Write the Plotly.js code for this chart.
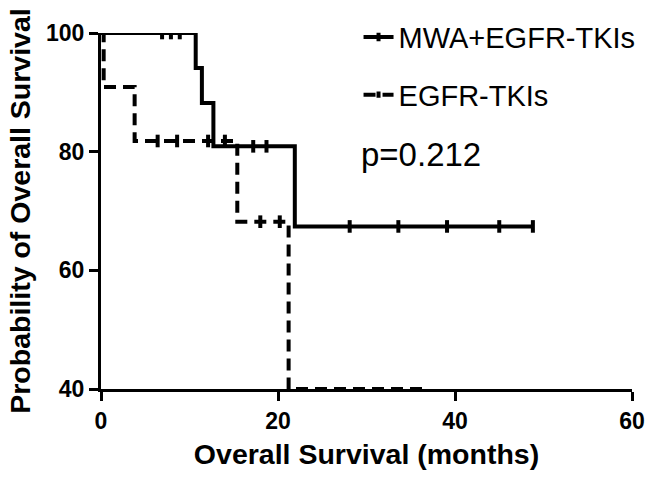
<!DOCTYPE html>
<html>
<head>
<meta charset="utf-8">
<script src="https://cdn.plot.ly/plotly-3.0.1.min.js"></script>
<style>
  body { margin: 0; background: #fff; }
  #km { width: 650px; height: 478px; }
</style>
</head>
<body>
<div id="km"></div>
<script>
// MWA+EGFR-TKIs: step points and censored points (months, % survival)
var mwaTime     = [0, 6.9, 7.9, 8.9, 10.7, 11.4, 12.7, 17.2, 18.7, 21.9, 28.1, 33.6, 39.1, 45.0, 48.8];
var mwaSurv     = [100, 100, 100, 100, 94.1, 88.2, 80.9, 80.9, 80.9, 67.4, 67.4, 67.4, 67.4, 67.4, 67.4];
var mwaCensored = [0, 1, 1, 1, 0, 0, 0, 1, 1, 0, 1, 1, 1, 1, 1];

// EGFR-TKIs
var tkiTime     = [0, 0.3, 3.8, 6.4, 8.6, 12.1, 14.0, 15.4, 18.0, 20.2, 21.2, 36.4];
var tkiSurv     = [100, 90.9, 81.8, 81.8, 81.8, 81.8, 81.8, 68.2, 68.2, 68.2, 40, 40];
var tkiCensored = [0, 0, 0, 1, 1, 1, 1, 0, 1, 1, 0, 0];

var pText = 'p=0.212';

function tickSizes(flags) {
  return flags.map(function (c) { return c ? 9 : 0; });
}

var data = [
  {
    x: mwaTime,
    y: mwaSurv,
    name: 'MWA+EGFR-TKIs',
    type: 'scatter',
    mode: 'lines+markers',
    line: { shape: 'hv', color: '#000', width: 4 },
    marker: { symbol: 'line-ns', size: tickSizes(mwaCensored), color: '#000', opacity: 1,
              line: { color: '#000', width: 4 } },
    legendgroup: 'a'
  },
  {
    x: tkiTime,
    y: tkiSurv,
    name: 'EGFR-TKIs',
    type: 'scatter',
    mode: 'lines+markers',
    line: { shape: 'hv', color: '#000', width: 4, dash: '12px,7px' },
    marker: { symbol: 'line-ns', size: tickSizes(tkiCensored), color: '#000', opacity: 1,
              line: { color: '#000', width: 4 } },
    legendgroup: 'b'
  }
];

var axisFont = { family: 'Liberation Sans, Arial, sans-serif', size: 23, color: '#000', weight: 'bold' };
var titleFont = { family: 'Liberation Sans, Arial, sans-serif', size: 28.5, color: '#000', weight: 'bold' };

var layout = {
  width: 650,
  height: 478,
  margin: { l: 101, r: 18, t: 33, b: 89, autoexpand: false },
  paper_bgcolor: '#fff',
  plot_bgcolor: '#fff',
  showlegend: true,
  legend: {
    x: 0.485, y: 1.06, xanchor: 'left', yanchor: 'top',
    font: { family: 'Liberation Sans, Arial, sans-serif', size: 29, color: '#000' },
    traceorder: 'grouped',
    tracegroupgap: 17,
    bgcolor: 'rgba(0,0,0,0)'
  },
  xaxis: {
    range: [0, 60],
    tickvals: [0, 20, 40, 60],
    ticks: 'outside', ticklen: 9, tickwidth: 3, tickcolor: '#000',
    showline: true, linewidth: 3, linecolor: '#000',
    showgrid: false, zeroline: false,
    tickfont: axisFont,
    title: { text: 'Overall Survival (months)', font: titleFont, standoff: 12 }
  },
  yaxis: {
    range: [40, 100],
    tickvals: [40, 60, 80, 100],
    ticks: 'outside', ticklen: 9, tickwidth: 3, tickcolor: '#000',
    showline: true, linewidth: 3, linecolor: '#000',
    showgrid: false, zeroline: false,
    tickfont: axisFont,
    title: { text: 'Probability of Overall Survival', font: titleFont, standoff: 8 }
  },
  annotations: [{
    text: pText,
    xref: 'paper', yref: 'paper',
    x: 0.485, y: 0.66, xanchor: 'left', yanchor: 'middle',
    showarrow: false,
    font: { family: 'Liberation Sans, Arial, sans-serif', size: 33, color: '#000' }
  }]
};

Plotly.newPlot('km', data, layout, { displayModeBar: false, staticPlot: true });
</script>
</body>
</html>
